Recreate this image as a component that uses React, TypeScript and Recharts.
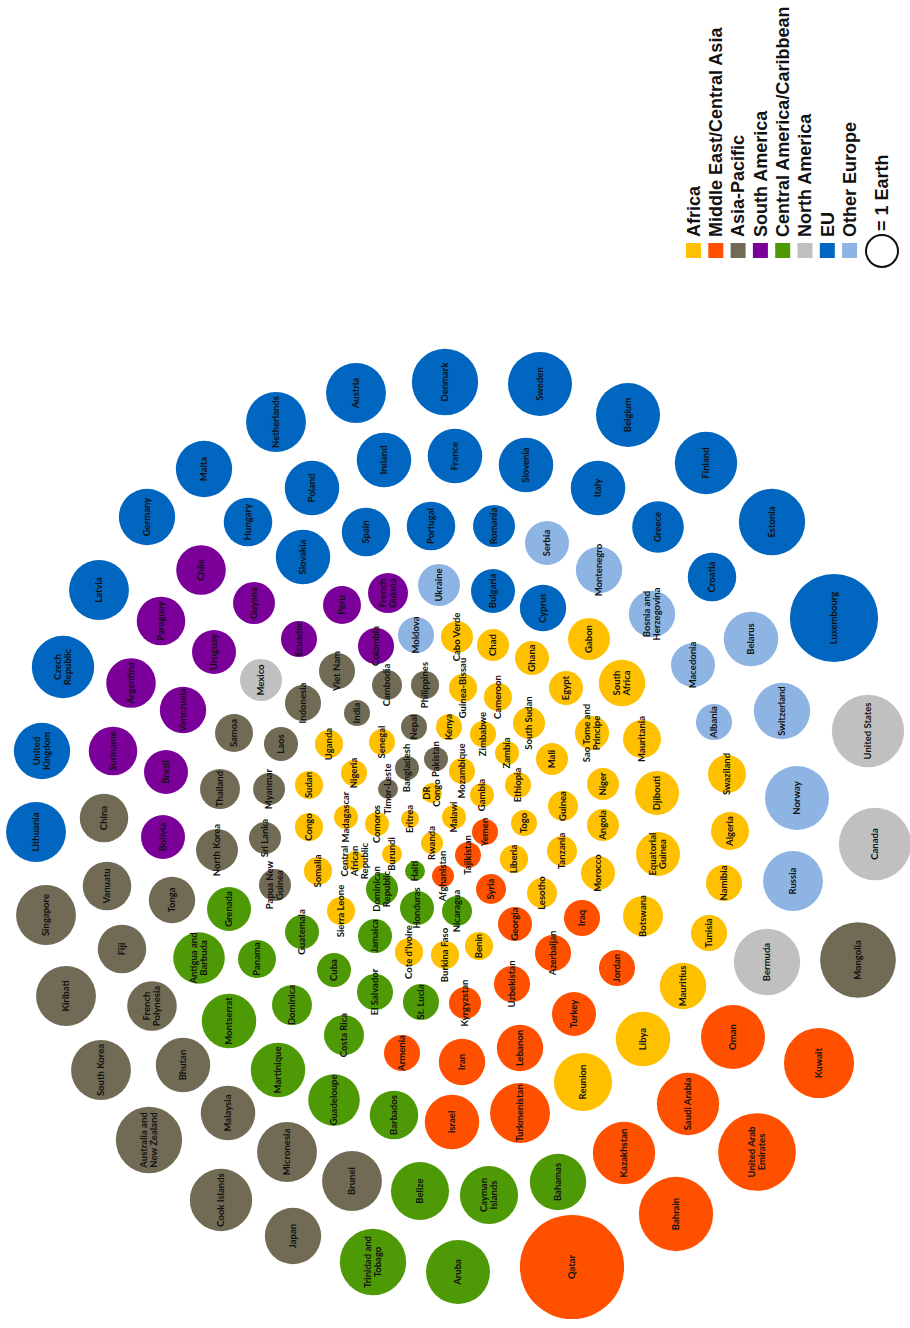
import React from 'react';
import { ScatterChart, Scatter, XAxis, YAxis, ZAxis, Legend } from 'recharts';

type Country = { name: string; x: number; y: number; earths: number };

// bubble layout coordinates (x, y) and ecological footprint in "Earths"
const africa: Country[] = [
  { name: 'Cabo Verde', x: 457, y: 637, earths: 1.0 },
  { name: 'Chad', x: 493, y: 645, earths: 1.0 },
  { name: 'Ghana', x: 532, y: 658, earths: 1.13 },
  { name: 'Gabon', x: 589, y: 639, earths: 1.72 },
  { name: 'South\nAfrica', x: 622, y: 683, earths: 2.1 },
  { name: 'Guinea-Bissau', x: 463, y: 688, earths: 0.77 },
  { name: 'Cameroon', x: 498, y: 697, earths: 0.77 },
  { name: 'Egypt', x: 566, y: 688, earths: 1.13 },
  { name: 'Kenya', x: 449, y: 727, earths: 0.66 },
  { name: 'Zimbabwe', x: 483, y: 734, earths: 0.66 },
  { name: 'South Sudan', x: 529, y: 723, earths: 1.0 },
  { name: 'Sao Tome and\nPrincipe', x: 592, y: 733, earths: 1.13 },
  { name: 'Mauritania', x: 642, y: 739, earths: 1.41 },
  { name: 'Uganda', x: 329, y: 744, earths: 0.77 },
  { name: 'Senegal', x: 382, y: 742, earths: 0.66 },
  { name: 'Zambia', x: 507, y: 753, earths: 0.56 },
  { name: 'Mali', x: 552, y: 759, earths: 1.0 },
  { name: 'Mozambique', x: 462, y: 771, earths: 0.66 },
  { name: 'Nigeria', x: 354, y: 773, earths: 0.66 },
  { name: 'Sudan', x: 309, y: 785, earths: 0.77 },
  { name: 'Niger', x: 603, y: 784, earths: 1.0 },
  { name: 'DR\nCongo', x: 432, y: 793, earths: 0.39 },
  { name: 'Gambia', x: 482, y: 795, earths: 0.56 },
  { name: 'Ethiopia', x: 518, y: 785, earths: 0.66 },
  { name: 'Guinea', x: 563, y: 806, earths: 0.88 },
  { name: 'Swaziland', x: 727, y: 774, earths: 1.41 },
  { name: 'Djibouti', x: 657, y: 793, earths: 1.89 },
  { name: 'Congo', x: 309, y: 827, earths: 0.77 },
  { name: 'Madagascar', x: 346, y: 817, earths: 0.56 },
  { name: 'Comoros', x: 377, y: 824, earths: 0.56 },
  { name: 'Eritrea', x: 410, y: 819, earths: 0.32 },
  { name: 'Malawi', x: 454, y: 817, earths: 0.56 },
  { name: 'Togo', x: 524, y: 823, earths: 0.66 },
  { name: 'Angola', x: 603, y: 825, earths: 1.0 },
  { name: 'Algeria', x: 730, y: 831, earths: 1.41 },
  { name: 'Rwanda', x: 432, y: 843, earths: 0.47 },
  { name: 'Burundi', x: 392, y: 854, earths: 0.39 },
  { name: 'Central\nAfrican\nRepublic', x: 355, y: 861, earths: 0.39 },
  { name: 'Liberia', x: 514, y: 859, earths: 0.77 },
  { name: 'Tanzania', x: 562, y: 851, earths: 0.88 },
  { name: 'Equatorial\nGuinea', x: 658, y: 854, earths: 1.89 },
  { name: 'Somalia', x: 318, y: 871, earths: 0.77 },
  { name: 'Morocco', x: 598, y: 873, earths: 1.13 },
  { name: 'Namibia', x: 724, y: 883, earths: 1.27 },
  { name: 'Lesotho', x: 542, y: 893, earths: 0.88 },
  { name: 'Sierra Leone', x: 341, y: 911, earths: 0.77 },
  { name: 'Botswana', x: 643, y: 916, earths: 1.56 },
  { name: 'Tunisia', x: 709, y: 933, earths: 1.27 },
  { name: "Cote d'Ivoire", x: 409, y: 952, earths: 0.77 },
  { name: 'Burkina Faso', x: 445, y: 955, earths: 0.77 },
  { name: 'Benin', x: 479, y: 946, earths: 0.77 },
  { name: 'Mauritius', x: 683, y: 986, earths: 2.1 },
  { name: 'Libya', x: 643, y: 1039, earths: 2.9 },
  { name: 'Reunion', x: 583, y: 1082, earths: 3.3 },
];

const middleEast: Country[] = [
  { name: 'Yemen', x: 485, y: 832, earths: 0.66 },
  { name: 'Tajikistan', x: 468, y: 855, earths: 0.66 },
  { name: 'Afghanistan', x: 443, y: 876, earths: 0.47 },
  { name: 'Syria', x: 491, y: 889, earths: 0.88 },
  { name: 'Georgia', x: 515, y: 924, earths: 1.13 },
  { name: 'Iraq', x: 582, y: 918, earths: 1.27 },
  { name: 'Azerbaijan', x: 553, y: 953, earths: 1.27 },
  { name: 'Uzbekistan', x: 512, y: 984, earths: 1.27 },
  { name: 'Kyrgyzstan', x: 465, y: 1003, earths: 1.0 },
  { name: 'Jordan', x: 617, y: 968, earths: 1.27 },
  { name: 'Turkey', x: 574, y: 1014, earths: 1.89 },
  { name: 'Armenia', x: 402, y: 1053, earths: 1.27 },
  { name: 'Iran', x: 462, y: 1062, earths: 2.1 },
  { name: 'Lebanon', x: 520, y: 1048, earths: 2.1 },
  { name: 'Israel', x: 452, y: 1122, earths: 2.9 },
  { name: 'Turkmenistan', x: 520, y: 1113, earths: 3.5 },
  { name: 'Oman', x: 733, y: 1037, earths: 4.0 },
  { name: 'Kuwait', x: 819, y: 1063, earths: 4.8 },
  { name: 'Saudi Arabia', x: 688, y: 1104, earths: 3.8 },
  { name: 'Kazakhstan', x: 624, y: 1153, earths: 3.8 },
  { name: 'United Arab\nEmirates', x: 757, y: 1152, earths: 5.9 },
  { name: 'Bahrain', x: 676, y: 1214, earths: 5.4 },
  { name: 'Qatar', x: 572, y: 1267, earths: 10.6 },
];

const asiaPacific: Country[] = [
  { name: 'Viet Nam', x: 337, y: 671, earths: 1.27 },
  { name: 'Indonesia', x: 303, y: 703, earths: 1.27 },
  { name: 'Cambodia', x: 387, y: 685, earths: 0.88 },
  { name: 'Philippines', x: 425, y: 685, earths: 0.77 },
  { name: 'India', x: 357, y: 713, earths: 0.66 },
  { name: 'Nepal', x: 414, y: 727, earths: 0.66 },
  { name: 'Bangladesh', x: 407, y: 768, earths: 0.56 },
  { name: 'Pakistan', x: 436, y: 759, earths: 0.56 },
  { name: 'Timor-Leste', x: 388, y: 789, earths: 0.39 },
  { name: 'Samoa', x: 234, y: 733, earths: 1.41 },
  { name: 'Laos', x: 281, y: 744, earths: 1.13 },
  { name: 'Thailand', x: 220, y: 789, earths: 1.56 },
  { name: 'Myanmar', x: 269, y: 789, earths: 1.0 },
  { name: 'China', x: 104, y: 818, earths: 2.3 },
  { name: 'North Korea', x: 217, y: 850, earths: 1.72 },
  { name: 'Sri Lanka', x: 265, y: 838, earths: 1.0 },
  { name: 'Papua New\nGuinea', x: 275, y: 885, earths: 1.0 },
  { name: 'Vanuatu', x: 107, y: 886, earths: 2.3 },
  { name: 'Tonga', x: 172, y: 900, earths: 2.1 },
  { name: 'Singapore', x: 46, y: 915, earths: 3.5 },
  { name: 'Fiji', x: 122, y: 949, earths: 2.3 },
  { name: 'Kiribati', x: 66, y: 996, earths: 3.5 },
  { name: 'French\nPolynesia', x: 152, y: 1006, earths: 2.4 },
  { name: 'South Korea', x: 101, y: 1070, earths: 3.5 },
  { name: 'Bhutan', x: 183, y: 1065, earths: 2.9 },
  { name: 'Malaysia', x: 228, y: 1113, earths: 2.9 },
  { name: 'Australia and\nNew Zealand', x: 149, y: 1140, earths: 4.3 },
  { name: 'Micronesia', x: 287, y: 1152, earths: 3.5 },
  { name: 'Cook Islands', x: 221, y: 1200, earths: 3.8 },
  { name: 'Japan', x: 293, y: 1236, earths: 3.1 },
  { name: 'Brunei', x: 352, y: 1181, earths: 3.5 },
  { name: 'Mongolia', x: 858, y: 960, earths: 5.6 },
];

const southAmerica: Country[] = [
  { name: 'Chile', x: 201, y: 570, earths: 2.4 },
  { name: 'Guyana', x: 254, y: 603, earths: 1.72 },
  { name: 'Paraguay', x: 161, y: 621, earths: 2.3 },
  { name: 'Ecuador', x: 299, y: 639, earths: 1.27 },
  { name: 'Uruguay', x: 214, y: 652, earths: 1.89 },
  { name: 'Argentina', x: 131, y: 683, earths: 2.4 },
  { name: 'Venezuela', x: 183, y: 710, earths: 2.1 },
  { name: 'Suriname', x: 113, y: 751, earths: 2.3 },
  { name: 'Brazil', x: 166, y: 772, earths: 1.89 },
  { name: 'Bolivia', x: 163, y: 837, earths: 1.89 },
  { name: 'Peru', x: 342, y: 605, earths: 1.41 },
  { name: 'French\nGuiana', x: 388, y: 593, earths: 1.56 },
  { name: 'Colombia', x: 376, y: 646, earths: 1.27 },
];

const centralAmerica: Country[] = [
  { name: 'Grenada', x: 229, y: 909, earths: 1.89 },
  { name: 'Guatemala', x: 302, y: 932, earths: 1.13 },
  { name: 'Antigua and\nBarbuda', x: 199, y: 958, earths: 2.6 },
  { name: 'Panama', x: 257, y: 959, earths: 1.41 },
  { name: 'Montserrat', x: 229, y: 1021, earths: 2.9 },
  { name: 'Dominica', x: 292, y: 1005, earths: 1.56 },
  { name: 'Martinique', x: 278, y: 1070, earths: 2.9 },
  { name: 'Haiti', x: 415, y: 871, earths: 0.39 },
  { name: 'Dominican\nRepublic', x: 382, y: 889, earths: 1.0 },
  { name: 'Honduras', x: 417, y: 908, earths: 1.13 },
  { name: 'Nicaragua', x: 457, y: 911, earths: 0.88 },
  { name: 'Jamaica', x: 375, y: 936, earths: 1.13 },
  { name: 'Cuba', x: 334, y: 970, earths: 1.13 },
  { name: 'El Salvador', x: 375, y: 992, earths: 1.27 },
  { name: 'St. Lucia', x: 421, y: 1002, earths: 1.27 },
  { name: 'Costa Rica', x: 344, y: 1035, earths: 1.56 },
  { name: 'Guadeloupe', x: 334, y: 1100, earths: 2.6 },
  { name: 'Barbados', x: 394, y: 1115, earths: 2.3 },
  { name: 'Belize', x: 420, y: 1191, earths: 3.3 },
  { name: 'Cayman\nIslands', x: 489, y: 1195, earths: 3.3 },
  { name: 'Bahamas', x: 558, y: 1182, earths: 3.1 },
  { name: 'Trinidad and\nTobago', x: 373, y: 1262, earths: 4.3 },
  { name: 'Aruba', x: 458, y: 1272, earths: 4.0 },
];

const northAmerica: Country[] = [
  { name: 'Mexico', x: 261, y: 680, earths: 1.72 },
  { name: 'United States', x: 868, y: 731, earths: 5.1 },
  { name: 'Canada', x: 875, y: 844, earths: 5.1 },
  { name: 'Bermuda', x: 767, y: 962, earths: 4.3 },
];

const eu: Country[] = [
  { name: 'Netherlands', x: 276, y: 422, earths: 3.5 },
  { name: 'Malta', x: 204, y: 469, earths: 3.1 },
  { name: 'Germany', x: 147, y: 517, earths: 3.1 },
  { name: 'Hungary', x: 248, y: 522, earths: 2.3 },
  { name: 'Slovakia', x: 303, y: 557, earths: 2.9 },
  { name: 'Latvia', x: 99, y: 590, earths: 3.5 },
  { name: 'Czech\nRepublic', x: 63, y: 667, earths: 3.8 },
  { name: 'United\nKingdom', x: 42, y: 751, earths: 3.1 },
  { name: 'Lithuania', x: 36, y: 832, earths: 3.5 },
  { name: 'Poland', x: 312, y: 488, earths: 2.9 },
  { name: 'Austria', x: 356, y: 393, earths: 3.5 },
  { name: 'Denmark', x: 445, y: 382, earths: 4.3 },
  { name: 'Sweden', x: 540, y: 384, earths: 4.0 },
  { name: 'Belgium', x: 628, y: 415, earths: 4.0 },
  { name: 'Ireland', x: 384, y: 460, earths: 2.9 },
  { name: 'France', x: 455, y: 456, earths: 2.9 },
  { name: 'Slovenia', x: 526, y: 465, earths: 2.9 },
  { name: 'Italy', x: 598, y: 488, earths: 2.9 },
  { name: 'Spain', x: 366, y: 532, earths: 2.3 },
  { name: 'Portugal', x: 431, y: 526, earths: 2.3 },
  { name: 'Romania', x: 494, y: 526, earths: 1.72 },
  { name: 'Bulgaria', x: 493, y: 591, earths: 1.89 },
  { name: 'Cyprus', x: 543, y: 608, earths: 2.1 },
  { name: 'Finland', x: 706, y: 463, earths: 3.8 },
  { name: 'Greece', x: 658, y: 527, earths: 2.6 },
  { name: 'Estonia', x: 772, y: 522, earths: 4.3 },
  { name: 'Croatia', x: 712, y: 577, earths: 2.3 },
  { name: 'Luxembourg', x: 834, y: 618, earths: 7.6 },
];

const otherEurope: Country[] = [
  { name: 'Serbia', x: 547, y: 543, earths: 1.89 },
  { name: 'Montenegro', x: 599, y: 570, earths: 2.1 },
  { name: 'Ukraine', x: 439, y: 585, earths: 1.72 },
  { name: 'Moldova', x: 416, y: 635, earths: 1.27 },
  { name: 'Bosnia and\nHerzegovina', x: 652, y: 614, earths: 2.1 },
  { name: 'Belarus', x: 751, y: 639, earths: 2.9 },
  { name: 'Macedonia', x: 693, y: 665, earths: 1.89 },
  { name: 'Albania', x: 714, y: 722, earths: 1.27 },
  { name: 'Switzerland', x: 782, y: 711, earths: 3.1 },
  { name: 'Norway', x: 797, y: 798, earths: 4.0 },
  { name: 'Russia', x: 793, y: 881, earths: 3.5 },
];

const regionNames = [
  'Africa',
  'Middle East/Central Asia',
  'Asia-Pacific',
  'South America',
  'Central America/Caribbean',
  'North America',
  'EU',
  'Other Europe',
];
const regionData = [africa, middleEast, asiaPacific, southAmerica, centralAmerica, northAmerica, eu, otherEurope];
const regionColors = ['#FFC000', '#FF5000', '#716B55', '#7A0099', '#4E9A06', '#C0C0C0', '#0066C0', '#8DB4E2'];

const allCountries = regionData.flat();

const ONE_EARTH_R = 16;
const MAX_EARTHS = 12;

const FONT = 'Lato, "Open Sans", sans-serif';
const LEGEND_FONT = '"Liberation Sans", Arial, sans-serif';

const Bubble = (props: any) => {
  const { cx, cy, width, size, color } = props;
  const r = width != null ? width / 2 : Math.sqrt((size || 0) / Math.PI);
  return <circle cx={cx} cy={cy} r={r} fill={color} />;
};

const BubbleLabel = (props: any) => {
  const { cx, cy, payload } = props;
  if (!payload) return <g />;
  const lines: string[] = String(payload.name).split('\n');
  const lh = 10;
  return (
    <text
      transform={`rotate(-90 ${cx} ${cy})`}
      textAnchor="middle"
      fontFamily={FONT}
      fontSize={9.5}
      fontWeight={700}
      fill="#111"
    >
      {lines.map((l, i) => (
        <tspan key={i} x={cx} y={cy + (i - (lines.length - 1) / 2) * lh} dy="0.35em">
          {l}
        </tspan>
      ))}
    </text>
  );
};

const renderLegend = () => {
  const step = 22.3;
  return (
    <svg width={240} height={280}>
      {regionNames.map((name, i) => {
        const x = 16 + i * step;
        const cx = x + 7.5;
        return (
          <g key={name}>
            <rect x={x} y={243} width={15} height={15} fill={regionColors[i]} />
            <text
              transform={`rotate(-90 ${cx} 237)`}
              x={cx}
              y={237}
              dy="0.35em"
              textAnchor="start"
              fontFamily={LEGEND_FONT}
              fontSize={18}
              fontWeight={700}
              fill="#111"
            >
              {name}
            </text>
          </g>
        );
      })}
      <circle cx={212} cy={251} r={ONE_EARTH_R} fill="#fff" stroke="#111" strokeWidth={2} />
      <text
        transform="rotate(-90 212 231)"
        x={212}
        y={231}
        dy="0.35em"
        textAnchor="start"
        fontFamily={LEGEND_FONT}
        fontSize={18}
        fontWeight={700}
        fill="#111"
      >
        = 1 Earth
      </text>
    </svg>
  );
};

export default function App() {
  return (
    <div style={{ position: 'absolute', left: 0, top: 0 }}>
      <ScatterChart width={910} height={1328} margin={{ top: 0, right: 0, bottom: 0, left: 0 }}>
        <XAxis type="number" dataKey="x" domain={[0, 910]} hide />
        <YAxis type="number" dataKey="y" domain={[0, 1328]} reversed hide />
        <ZAxis
          type="number"
          dataKey="earths"
          domain={[0, MAX_EARTHS]}
          range={[0, Math.PI * ONE_EARTH_R * ONE_EARTH_R * MAX_EARTHS]}
        />
        <Legend
          verticalAlign="middle"
          content={renderLegend}
          wrapperStyle={{ position: 'absolute', left: 670, top: 0, width: 240, height: 280 }}
        />
        {regionNames.map((name, i) => (
          <Scatter
            key={name}
            name={name}
            data={regionData[i]}
            fill={regionColors[i]}
            isAnimationActive={false}
            shape={(p: any) => <Bubble {...p} color={regionColors[i]} />}
          />
        ))}
        <Scatter
          name="labels"
          data={allCountries}
          legendType="none"
          isAnimationActive={false}
          shape={(p: any) => <BubbleLabel {...p} />}
        />
      </ScatterChart>
    </div>
  );
}
